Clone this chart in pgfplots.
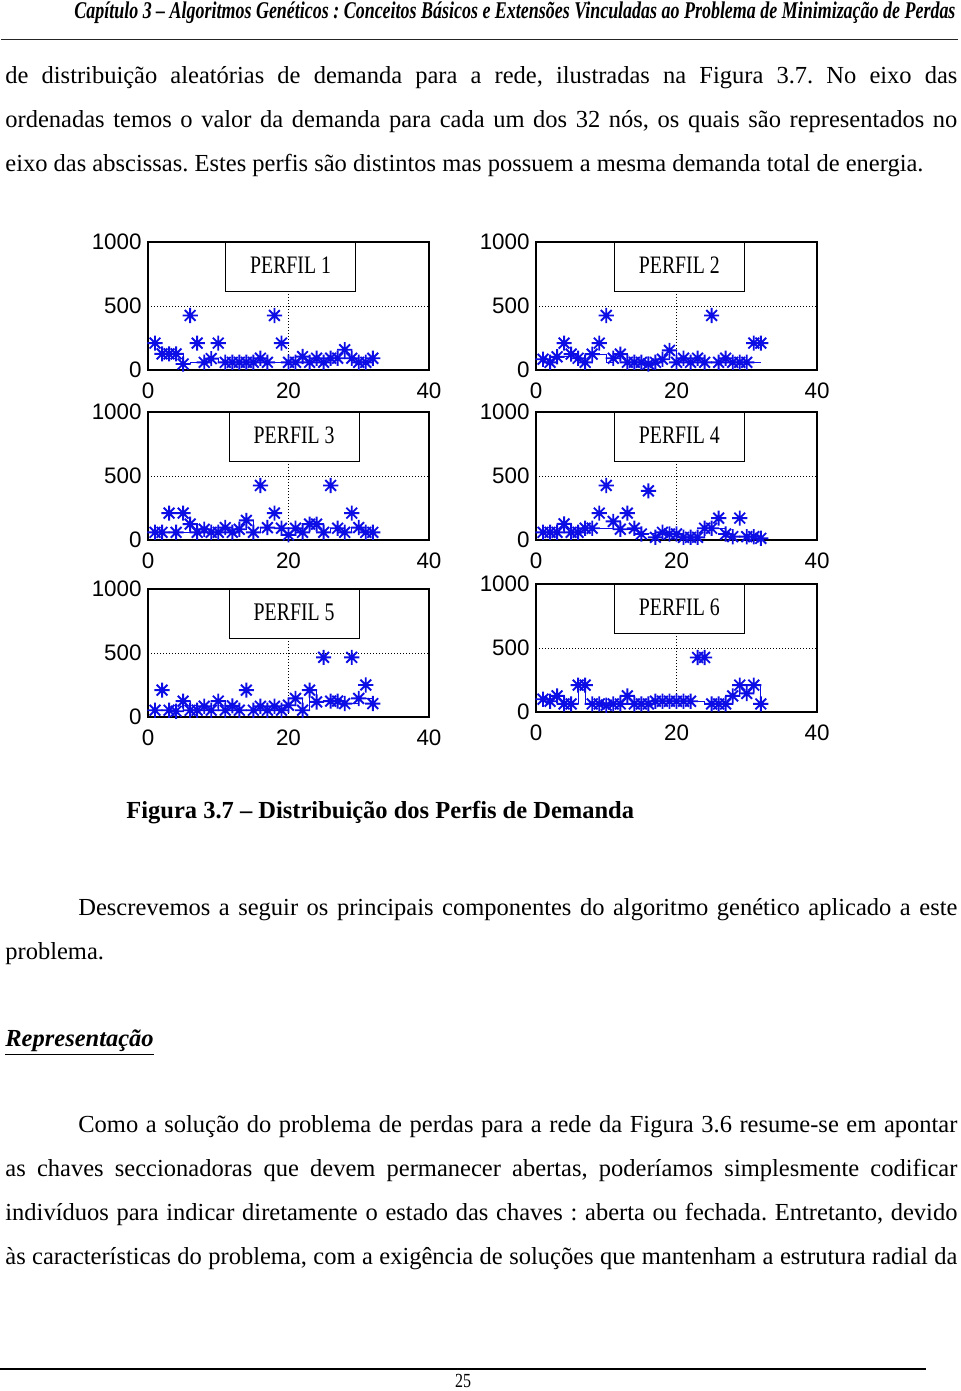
\documentclass[border=0pt]{standalone}
\usepackage{pgfplots}
\pgfplotsset{compat=1.18}
\usepackage{pgfplotstable}
\usepackage{fontspec}
\setmainfont{Liberation Serif}
\newfontfamily\arialf{Liberation Sans}
\definecolor{mblue}{rgb}{0.05,0.05,0.9}
\frenchspacing

\pgfdeclareplotmark{mstar}{%
  \pgfpathmoveto{\pgfpoint{0pt}{\pgfplotmarksize}}\pgfpathlineto{\pgfpoint{0pt}{-\pgfplotmarksize}}%
  \pgfpathmoveto{\pgfpoint{\pgfplotmarksize}{0pt}}\pgfpathlineto{\pgfpoint{-\pgfplotmarksize}{0pt}}%
  \pgfpathmoveto{\pgfpoint{0.7071\pgfplotmarksize}{0.7071\pgfplotmarksize}}\pgfpathlineto{\pgfpoint{-0.7071\pgfplotmarksize}{-0.7071\pgfplotmarksize}}%
  \pgfpathmoveto{\pgfpoint{0.7071\pgfplotmarksize}{-0.7071\pgfplotmarksize}}\pgfpathlineto{\pgfpoint{-0.7071\pgfplotmarksize}{0.7071\pgfplotmarksize}}%
  \pgfusepathqstroke}

\pgfplotstableread{
x s l
1 210 126
2 126 126
3 126 126
4 126 126
5 47 47
6 426 60
7 210 60
8 60 60
9 89 89
10 210 60
11 60 60
12 60 60
13 60 60
14 60 60
15 60 60
16 92 92
17 60 60
18 426 60
19 210 60
20 60 60
21 60 60
22 105 105
23 60 60
24 92 92
25 60 60
26 92 92
27 92 92
28 158 158
29 92 92
30 60 60
31 60 60
32 92 92
}\tabA
\pgfplotstableread{
x s l
1 84 84
2 60 60
3 103 103
4 210 103
5 124 124
6 92 92
7 60 60
8 124 124
9 210 124
10 426 60
11 92 92
12 124 124
13 60 60
14 60 60
15 60 60
16 47 47
17 60 60
18 84 84
19 153 153
20 60 60
21 92 92
22 60 60
23 92 92
24 60 60
25 426 60
26 60 60
27 92 92
28 60 60
29 60 60
30 60 60
31 210 60
32 210 60
}\tabB
\pgfplotstableread{
x s l
1 60 60
2 60 60
3 210 60
4 60 60
5 210 60
6 124 124
7 60 60
8 84 84
9 60 60
10 60 60
11 97 97
12 60 60
13 84 84
14 153 153
15 60 60
16 426 97
17 97 97
18 210 92
19 92 92
20 40 40
21 92 92
22 60 60
23 124 124
24 124 124
25 60 60
26 426 92
27 92 92
28 60 60
29 210 97
30 97 97
31 60 60
32 60 60
}\tabC
\pgfplotstableread{
x s l
1 60 60
2 60 60
3 60 60
4 126 126
5 60 60
6 60 60
7 92 92
8 92 92
9 210 92
10 426 92
11 145 145
12 84 84
13 210 84
14 92 92
15 47 47
16 384 47
17 21 21
18 60 60
19 47 47
20 47 47
21 21 21
22 21 21
23 21 21
24 92 92
25 92 92
26 171 92
27 47 47
28 26 26
29 171 26
30 26 26
31 26 26
32 13 13
}\tabD
\pgfplotstableread{
x s l
1 53 53
2 210 53
3 53 53
4 45 45
5 124 124
6 53 53
7 53 53
8 84 84
9 53 53
10 124 124
11 53 53
12 87 87
13 53 53
14 210 53
15 53 53
16 84 84
17 53 53
18 84 84
19 53 53
20 92 92
21 145 145
22 53 53
23 210 210
24 118 118
25 466 118
26 124 124
27 124 124
28 105 105
29 466 105
30 145 145
31 250 145
32 105 105
}\tabE
\pgfplotstableread{
x s l
1 100 100
2 84 84
3 126 126
4 63 63
5 63 63
6 210 210
7 210 63
8 63 63
9 63 63
10 53 53
11 63 63
12 63 63
13 126 126
14 63 63
15 63 63
16 63 63
17 84 84
18 84 84
19 84 84
20 84 84
21 84 84
22 84 84
23 426 84
24 426 63
25 63 63
26 63 63
27 63 63
28 126 126
29 210 210
30 145 145
31 210 210
32 63 63
}\tabF

\pgfplotsset{perfil/.style={
  scale only axis, width=140.5pt, height=64pt,
  xmin=0, xmax=40, ymin=0, ymax=1000,
  xtick={0,20,40}, ytick={0,500,1000}, major tick length=0pt,
  grid=major, grid style={line width=0.5pt, dash pattern=on 0.5pt off 1pt, black},
  axis line style={line width=0.75pt},
  tick label style={font=\arialf\fontsize{11.2}{12}\selectfont},
  /pgf/number format/assume math mode=true, /pgf/number format/1000 sep={},
  xticklabel style={anchor=north, inner sep=0pt, yshift=-6pt},
  yticklabel style={anchor=east, inner sep=0pt, xshift=-3pt},
  clip=false,
}}
\newcommand{\perfilplots}[1]{%
  \addplot[const plot, mblue, line width=0.5pt, no marks] table[x=x,y=l] {#1};
  \addplot[only marks, mark=mstar, mark size=3.8pt, mblue, line width=0.95pt] table[x=x,y=s] {#1};}
\newcommand{\perfilbox}[2]{%
  \node[draw, line width=0.6pt, fill=white, minimum width=65pt, minimum height=24.5pt, inner sep=0pt, anchor=north] at (axis cs:#1,1000) {\raisebox{2pt}{\resizebox{40.4pt}{8.3pt}{#2}}};}

\begin{document}
\begin{tikzpicture}[font=\fontsize{12.25}{14}\selectfont]
\useasboundingbox (0,0) rectangle (480pt,-695.5pt);
\fill[white] (0,0) rectangle (480pt,-695.5pt);

% header
\node[anchor=base west, inner sep=0pt] at (37pt,-9.5pt) {\resizebox{440.5pt}{\height}{\fontsize{12}{14}\selectfont\bfseries\itshape Capítulo 3 – Algoritmos Genéticos : Conceitos Básicos e Extensões Vinculadas ao Problema de Minimização de Perdas}};
\draw[line width=0.6pt, black!85] (0.5pt,-19.8pt) -- (479pt,-19.8pt);

% paragraph 1
\node[anchor=base west, inner sep=0pt] at (2.5pt,-42pt) {\makebox[476pt][s]{de distribuição aleatórias de demanda para a rede, ilustradas na Figura 3.7. No eixo das}};
\node[anchor=base west, inner sep=0pt] at (2.5pt,-64pt) {\makebox[476pt][s]{ordenadas temos o valor da demanda para cada um dos 32 nós, os quais são representados no}};
\node[anchor=base west, inner sep=0pt] at (2.5pt,-86pt) {eixo das abscissas. Estes perfis são distintos mas possuem a mesma demanda total de energia.};

% plots
\begin{axis}[perfil, at={(74pt,-185pt)}, anchor=south west]
\perfilplots{\tabA}
\perfilbox{20.3}{PERFIL 1}
\end{axis}
\begin{axis}[perfil, at={(268pt,-185pt)}, anchor=south west]
\perfilplots{\tabB}
\perfilbox{20.4}{PERFIL 2}
\end{axis}
\begin{axis}[perfil, at={(74pt,-270pt)}, anchor=south west]
\perfilplots{\tabC}
\perfilbox{20.8}{PERFIL 3}
\end{axis}
\begin{axis}[perfil, at={(268pt,-270pt)}, anchor=south west]
\perfilplots{\tabD}
\perfilbox{20.4}{PERFIL 4}
\end{axis}
\begin{axis}[perfil, at={(74pt,-358.5pt)}, anchor=south west]
\perfilplots{\tabE}
\perfilbox{20.8}{PERFIL 5}
\end{axis}
\begin{axis}[perfil, at={(268pt,-356pt)}, anchor=south west]
\perfilplots{\tabF}
\perfilbox{20.4}{PERFIL 6}
\end{axis}

% caption
\node[anchor=base west, inner sep=0pt] at (63pt,-409pt) {\bfseries Figura 3.7 – Distribuição dos Perfis de Demanda};

% paragraph 2
\node[anchor=base west, inner sep=0pt] at (39pt,-457.5pt) {\makebox[439.5pt][s]{Descrevemos a seguir os principais componentes do algoritmo genético aplicado a este}};
\node[anchor=base west, inner sep=0pt] at (2.5pt,-479.5pt) {problema.};

\node[anchor=base west, inner sep=0pt] at (2.5pt,-523pt) {\bfseries\itshape \underline{Representação}};

% paragraph 3
\node[anchor=base west, inner sep=0pt] at (39pt,-566pt) {\makebox[439.5pt][s]{Como a solução do problema de perdas para a rede da Figura 3.6 resume-se em apontar}};
\node[anchor=base west, inner sep=0pt] at (2.5pt,-588pt) {\makebox[476pt][s]{as chaves seccionadoras que devem permanecer abertas, poderíamos simplesmente codificar}};
\node[anchor=base west, inner sep=0pt] at (2.5pt,-610pt) {\makebox[476pt][s]{indivíduos para indicar diretamente o estado das chaves : aberta ou fechada. Entretanto, devido}};
\node[anchor=base west, inner sep=0pt] at (2.5pt,-632pt) {\makebox[476pt][s]{às características do problema, com a exigência de soluções que mantenham a estrutura radial da}};

% footer
\draw[line width=1.3pt] (0,-684.5pt) -- (463pt,-684.5pt);
\node[inner sep=0pt] at (231.5pt,-690.5pt) {\scalebox{0.8}[1]{\fontsize{10}{11}\selectfont 25}};
\end{tikzpicture}
\end{document}
